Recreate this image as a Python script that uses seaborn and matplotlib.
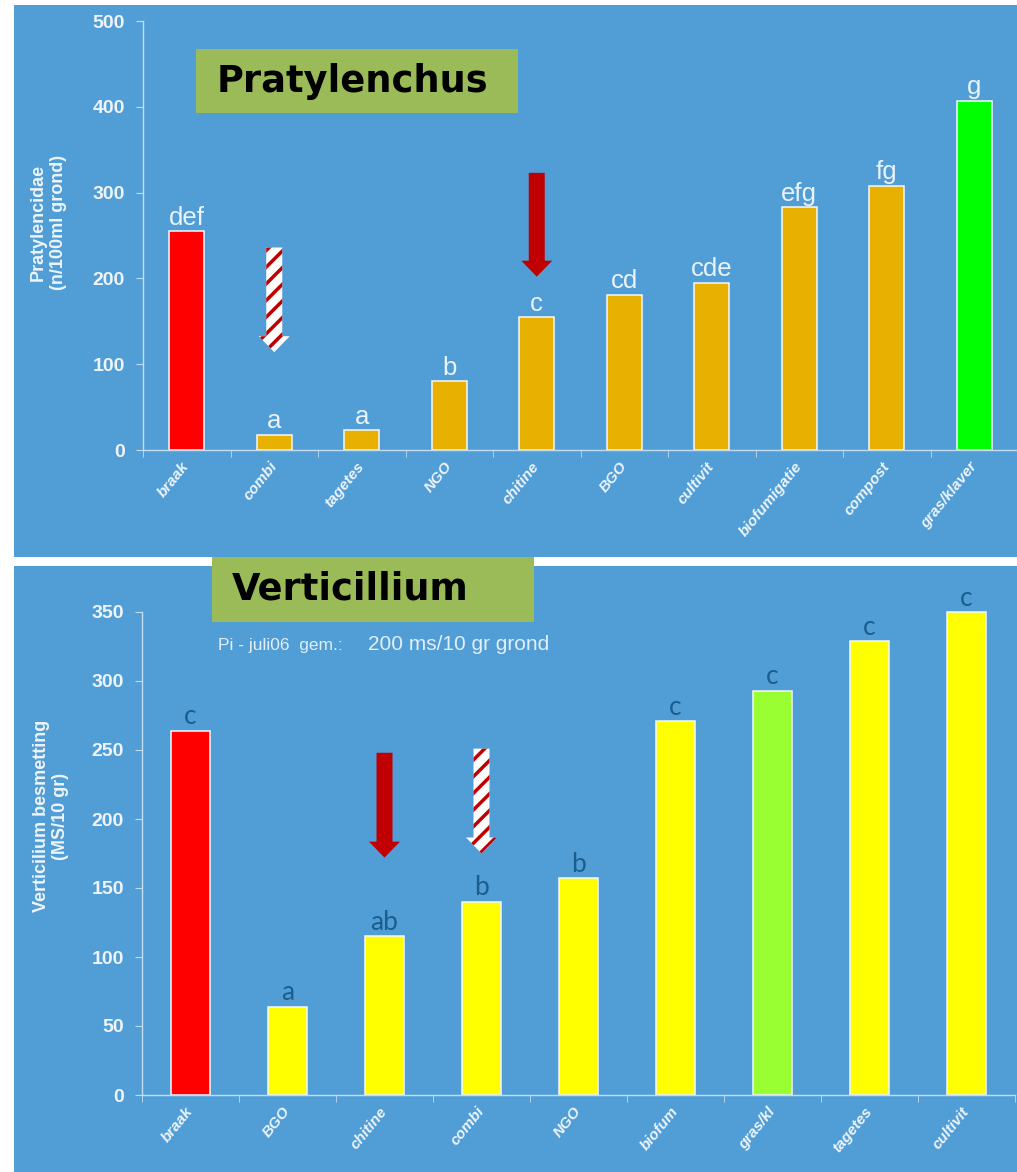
import matplotlib
matplotlib.use('Agg')
import matplotlib.pyplot as plt
import matplotlib.patches as mpatches
import matplotlib.transforms as mtransforms
import seaborn as sns

# Pratylenchus panel
prat_cats = ['braak', 'combi', 'tagetes', 'NGO', 'chitine', 'BGO', 'cultivit',
             'biofumigatie', 'compost', 'gras/klaver']
prat_vals = [255, 18, 23, 80, 155, 181, 195, 283, 308, 407]
prat_letters = ['def', 'a', 'a', 'b', 'c', 'cd', 'cde', 'efg', 'fg', 'g']
prat_colors = ['#FF0000'] + ['#E8B000'] * 8 + ['#00FF00']
prat_yticks = [0, 100, 200, 300, 400, 500]
# arrows: category, start value, tip value, style
prat_arrows = [('combi', 236, 114, 'striped'), ('chitine', 323, 202, 'solid')]

# Verticillium panel
vert_cats = ['braak', 'BGO', 'chitine', 'combi', 'NGO', 'biofum', 'gras/kl',
             'tagetes', 'cultivit']
vert_vals = [264, 64, 115, 140, 157, 271, 293, 329, 350]
vert_letters = ['c', 'a', 'ab', 'b', 'b', 'c', 'c', 'c', 'c']
vert_colors = ['#FF0000'] + ['#FFFF00'] * 5 + ['#99FF33'] + ['#FFFF00'] * 2
vert_yticks = [0, 50, 100, 150, 200, 250, 300, 350]
vert_arrows = [('chitine', 248, 172, 'solid'), ('combi', 251, 175, 'striped')]

BG = '#519ED7'
LIGHT = '#EEF4FA'
AXIS = '#C4DCF0'
SANS = ['Liberation Sans', 'DejaVu Sans']

plt.rcParams['hatch.linewidth'] = 2.5

W, H = 1017, 1172
fig = plt.figure(figsize=(W / 100, H / 100), dpi=100, facecolor='white')


def px(x0, y0, x1, y1):
    # pixel box (top-left origin) -> figure fraction rect
    return [x0 / W, 1 - y1 / H, (x1 - x0) / W, (y1 - y0) / H]


# blue panels behind everything
for x0, y0, x1, y1 in [(14, 5, 1017, 557), (14, 566, 1017, 1172)]:
    r = px(x0, y0, x1, y1)
    fig.patches.append(mpatches.Rectangle((r[0], r[1]), r[2], r[3], transform=fig.transFigure,
                                          facecolor=BG, edgecolor='none', zorder=-5))


def panel(ax, cats, vals, letters, colors, yticks, lcolor, lfont, lsize, arrows, ratio, lab_dx):
    sns.barplot(x=cats, y=vals, hue=cats, palette=colors, legend=False, width=0.4,
                edgecolor='#F4F8FC', linewidth=1.1, saturation=1, ax=ax)
    ax.set_facecolor('none')
    ax.set_xlim(-0.5, len(cats) - 0.5)
    ax.set_ylim(yticks[0], yticks[-1])
    ax.set_yticks(yticks)
    ax.set_yticklabels([str(t) for t in yticks], color=LIGHT, fontsize=14,
                       fontweight='bold', family=SANS)
    ax.set_xticks(range(len(cats)))
    ax.set_xticklabels(cats, rotation=51, ha='right', va='center', rotation_mode='anchor',
                       color=LIGHT, fontsize=11, fontstyle='italic', fontweight='bold',
                       family=SANS)
    shift = mtransforms.ScaledTranslation(lab_dx / 100, 0, fig.dpi_scale_trans)
    for t in ax.get_xticklabels():
        t.set_transform(t.get_transform() + shift)
    ax.set_xticks([i - 0.5 for i in range(len(cats) + 1)], minor=True)
    ax.tick_params(axis='x', which='major', length=0, pad=10)
    ax.tick_params(axis='x', which='minor', length=5, color=AXIS, direction='out')
    ax.tick_params(axis='y', length=5, color=AXIS, pad=8)
    for s in ['top', 'right']:
        ax.spines[s].set_visible(False)
    for s in ['left', 'bottom']:
        ax.spines[s].set_color(AXIS)
        ax.spines[s].set_linewidth(1)
    ax.set_xlabel('')
    ax.set_ylabel('')
    for p in ax.patches:
        p.set_clip_on(False)
    for i, (v, lab) in enumerate(zip(vals, letters)):
        ax.annotate(lab, (i, v), xytext=(0, 1), textcoords='offset points',
                    ha='center', va='bottom', color=lcolor, fontsize=lsize, family=lfont)
    # arrows (vertical, so widths in x units and head length in y units)
    for cat, y0, y1, style in arrows:
        xi = cats.index(cat)
        if style == 'solid':
            arr = mpatches.FancyArrow(xi, y0, 0, y1 - y0, width=16 / ratio[0],
                                      head_width=31 / ratio[0], head_length=16 / ratio[1],
                                      length_includes_head=True, facecolor='#C00000',
                                      edgecolor='none', zorder=4)
        else:
            arr = mpatches.FancyArrow(xi, y0, 0, y1 - y0, width=16 / ratio[0],
                                      head_width=31 / ratio[0], head_length=16 / ratio[1],
                                      length_includes_head=True, facecolor='white',
                                      edgecolor='#C00000', linewidth=0, hatch='//', zorder=4)
        ax.add_patch(arr)


# top panel: x from 143 to 1018 px, y 0 at 450 px, 500 at 21 px
ax1 = fig.add_axes(px(143, 21, 1018, 450))
panel(ax1, prat_cats, prat_vals, prat_letters, prat_colors, prat_yticks,
      '#EAF2FA', SANS, 18.5, prat_arrows, (87.5, 429 / 500), 4)

# bottom panel: x from 142 to 1015 px, y 0 at 1095 px, 350 at 612 px
ax2 = fig.add_axes(px(142, 612, 1015, 1095))
panel(ax2, vert_cats, vert_vals, vert_letters, vert_colors, vert_yticks,
      '#1B5E8E', ['Lato', 'DejaVu Sans'], 19, vert_arrows, (97, 483 / 350), 8)

# y labels
fig.text(48 / W, 1 - 222 / H, 'Pratylencidae\n(n/100ml grond)', rotation=90, ha='center',
         va='center', multialignment='center', color=LIGHT, fontsize=13,
         fontweight='bold', family=SANS, linespacing=1.25)
fig.text(51 / W, 1 - 816 / H, 'Verticilium besmetting\n(MS/10 gr)', rotation=90, ha='center',
         va='center', multialignment='center', color=LIGHT, fontsize=13,
         fontweight='bold', family=SANS, linespacing=1.2)

# title boxes
for (x0, y0, x1, y1), title, tx in [((196, 49, 518, 113), 'Pratylenchus', 217),
                                     ((212, 557, 534, 622), 'Verticillium', 232)]:
    r = px(x0, y0, x1, y1)
    fig.patches.append(mpatches.Rectangle((r[0], r[1]), r[2], r[3], transform=fig.transFigure,
                                          facecolor='#9BBB59', edgecolor='none', zorder=5))
    fig.text(tx / W, 1 - (y0 + y1) / 2 / H, title, ha='left', va='center', color='black',
             fontsize=26.5, fontweight='bold', family='DejaVu Sans', zorder=6)

# subtitle
fig.text(218 / W, 1 - 650 / H, 'Pi - juli06  gem.:', ha='left', va='baseline',
         color='#E2EEF8', fontsize=12.5, family=SANS)
fig.text(368 / W, 1 - 650 / H, '200 ms/10 gr grond', ha='left', va='baseline',
         color='#E2EEF8', fontsize=15, family=SANS)

fig.savefig('out.png', dpi=100, facecolor='white')
